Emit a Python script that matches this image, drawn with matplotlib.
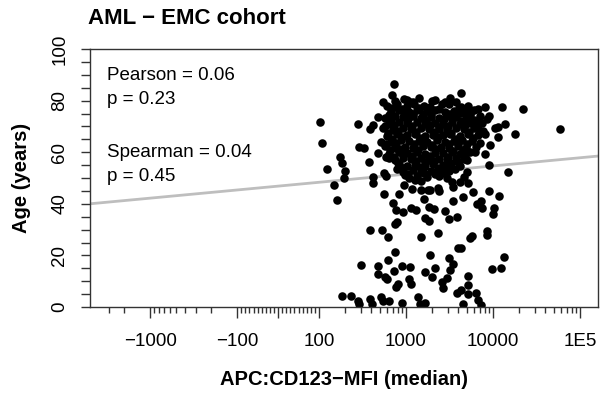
import numpy as np
import matplotlib
matplotlib.use("Agg")
import matplotlib.pyplot as plt
from matplotlib.ticker import FixedLocator, FixedFormatter, NullFormatter

plt.rcParams['font.family'] = ['Liberation Sans', 'DejaVu Sans']

title = "AML \u2212 EMC cohort"
x_label = "APC:CD123\u2212MFI (median)"
y_label = "Age (years)"
stats_lines = ["Pearson = 0.06", "p = 0.23", "Spearman = 0.04", "p = 0.45"]

# scattered samples (outside the dense core)
mfi_sparse = [103, 108, 176, 186, 124, 197, 194, 148, 163, 279,
              287, 333, 380, 422, 422, 562, 588, 566, 390, 534,
              619, 740, 614, 308, 472, 477, 577, 726, 908, 1100,
              603, 818, 775, 1082, 1132, 186, 235, 279, 287, 388,
              408, 520, 538, 641, 908, 1380, 1443, 1644, 740, 785,
              715, 760, 925, 1132, 1300, 833, 949, 1180, 1505, 1778,
              1601, 1826, 1644, 1826, 1490, 1895, 1644, 1990, 2180, 538,
              735, 687, 481, 390, 422, 520, 472, 588, 641, 785,
              974, 1280, 1470,
              4250, 8180, 12660, 22300, 58500, 18000, 13570, 11400, 10460, 11400,
              9005, 8620, 8180, 9170, 8030, 9005, 15000, 4330, 5400, 2590,
              2137, 6300, 6751, 7050, 6190, 4990, 5065, 4683, 5199, 4180,
              3370, 3510, 2330, 2371, 1895, 5925, 8950, 11600, 4480, 3450,
              7230, 6620, 7550, 10260, 9990, 2080, 2830, 3830, 3080, 2330,
              8480, 8620, 5810, 5400, 4003, 4250, 3162, 3510, 13340, 12450,
              9820, 3230, 2960, 2590, 2633, 5130, 5199, 4290, 3830, 5130,
              6410, 6751, 4480, 7370]
age_sparse = [71.6, 63.7, 58.3, 55.9, 53.5, 52.8, 49.9, 47.3, 41.6, 71.0,
              61.9, 61.7, 56.3, 50.5, 47.9, 51.8, 50.8, 43.8, 29.8, 29.7,
              27.2, 21.2, 18.2, 16.2, 15.9, 12.7, 11.7, 14.1, 15.9, 15.6,
              10.9, 8.9, 7.6, 10.9, 8.8, 4.3, 4.3, 2.4, 1.2, 3.1,
              1.2, 4.0, 2.3, 2.3, 1.4, 4.0, 1.2, 1.4, 32.2, 33.1,
              40.2, 37.6, 36.9, 38.5, 37.6, 43.7, 47.3, 45.7, 45.3, 45.3,
              41.9, 38.9, 34.4, 33.3, 27.0, 20.2, 13.4, 11.5, 15.0, 79.6,
              86.4, 82.2, 73.8, 69.0, 70.5, 64.1, 59.6, 58.3, 57.9, 53.4,
              51.2, 49.2, 48.8,
              83.1, 77.4, 77.4, 76.6, 69.0, 67.1, 70.9, 69.7, 69.3, 65.8,
              74.0, 72.8, 66.9, 62.8, 59.2, 55.0, 52.4, 77.6, 75.3, 78.7,
              80.2, 71.8, 68.9, 63.4, 60.2, 57.0, 52.4, 50.5, 47.9, 48.6,
              48.6, 46.6, 46.0, 45.0, 45.3, 44.5, 45.1, 43.0, 42.5, 41.2,
              41.2, 39.9, 38.3, 38.3, 36.0, 37.9, 37.3, 35.0, 34.0, 28.6,
              29.6, 27.9, 27.6, 26.6, 23.0, 22.8, 18.9, 16.6, 19.5, 15.0,
              14.7, 14.3, 11.4, 9.8, 7.2, 12.1, 8.5, 6.6, 5.3, 5.0,
              5.3, 2.7, 1.2, 0.8]

# dense core of the cloud
mfi_dense = [949, 1405, 3246, 1026, 1201,
             609, 790, 1026, 1233, 1601, 3080, 5199,
             675, 833, 1082, 1334, 1733, 2137, 2774, 3604, 4683, 6081,
             577, 750, 925, 1201, 1480, 1924, 2371, 3080, 3800, 4934, 7113,
             641, 833, 1026, 1334, 1644, 2137, 2633, 3420, 4217, 5478, 7496,
             548, 712, 925, 1140, 1480, 1826, 2371, 2923, 3800, 4683, 6081,
             609, 790, 1026, 1265, 1644, 2028, 2633, 3246, 4217, 5199, 6751,
             675, 877, 1082, 1405, 1733, 2251, 2774, 3604, 4444, 5771,
             577, 750, 974, 1201, 1560, 1924, 2499, 3080, 4003, 4934, 6408,
             641, 833, 1026, 1334, 1644, 2137, 2633, 3420, 4217, 5478,
             750, 925, 1140, 1480, 1826, 2371, 2923, 3800, 4683,
             833, 1026, 1265, 1644, 2028, 2633, 3246, 4217,
             925, 1201, 1480, 1924, 2499, 3080,
             1082, 1334, 1733, 2371, 2923]
age_dense = [80.5, 80.9, 80.9, 80.1, 79.5,
             78.0, 78.8, 77.9, 78.5, 78.1, 78.6, 77.8,
             75.8, 76.4, 75.6, 76.2, 75.9, 76.5, 75.7, 76.1, 75.5, 76.3,
             73.2, 74.0, 73.5, 73.9, 73.3, 73.8, 73.4, 74.1, 73.6, 73.2, 73.9,
             71.0, 71.6, 71.2, 71.7, 70.9, 71.4, 71.1, 71.6, 71.0, 71.5, 71.2,
             69.3, 68.7, 69.2, 68.8, 69.4, 68.9, 69.1, 68.6, 69.3, 68.8, 69.2,
             66.4, 67.0, 66.5, 66.9, 66.3, 66.8, 66.6, 67.1, 66.4, 66.9, 66.5,
             64.0, 64.6, 64.2, 64.5, 64.1, 64.7, 64.0, 64.4, 64.6, 64.2,
             62.3, 61.7, 62.2, 61.8, 62.4, 61.9, 62.1, 61.6, 62.3, 61.8, 62.0,
             59.4, 60.0, 59.5, 59.9, 59.3, 59.8, 59.6, 60.1, 59.4, 59.9,
             57.1, 57.7, 57.2, 57.6, 57.0, 57.5, 57.3, 57.8, 57.2,
             55.3, 54.8, 55.2, 54.7, 55.4, 54.9, 55.1, 54.6,
             52.4, 53.0, 52.5, 52.9, 52.3, 52.8,
             50.1, 50.7, 50.2, 50.6, 50.0]

# more samples filling the gaps in the core
mfi_fill = [750, 1110, 1975, 2774, 3800,
            693, 901, 1405, 1875, 2371, 4110, 6751,
            641, 949, 1201, 1560, 1924, 3162, 4217, 5478,
            675, 1054, 1688, 2703, 4329, 6081,
            577, 731, 1170, 1875, 2371, 3000, 4808, 6408,
            625, 811, 1300, 2082, 3331, 5337, 7694,
            693, 901, 1443, 2310, 3700, 5925,
            593, 770, 1233, 1560, 1975, 3162, 4003, 5065,
            658, 855, 1369, 2193, 3510, 4561,
            731, 925, 1170, 1875, 3000, 4808,
            811, 1300, 1644, 2082, 3331, 4003,
            925, 1443, 2310, 2850, 3700,
            1054, 1601, 2137, 2703]
age_fill = [79.9, 79.4, 80.0, 79.6, 79.3,
            77.3, 76.8, 77.0, 77.4, 76.9, 77.2, 76.8,
            74.6, 75.1, 74.7, 75.0, 74.5, 74.9, 75.2, 74.6,
            72.3, 72.8, 72.4, 72.7, 72.2, 72.6,
            70.0, 70.5, 70.1, 70.4, 69.9, 70.3, 70.6, 70.0,
            67.6, 68.1, 67.7, 68.0, 67.5, 67.9, 68.2,
            65.3, 65.8, 65.4, 65.7, 65.2, 65.6,
            63.0, 63.5, 63.1, 63.4, 62.9, 63.3, 63.6, 63.0,
            60.7, 61.2, 60.8, 61.1, 60.6, 61.0,
            58.3, 58.8, 58.4, 58.7, 58.2, 58.6,
            56.0, 56.5, 56.1, 56.4, 55.9, 56.3,
            53.7, 54.2, 53.8, 54.1, 53.6,
            51.4, 51.9, 51.5, 51.8]

# linear fit drawn across the plot
fit_x = [-4920, 161000]
fit_y = [40.0, 58.5]

x_major = [-1000, -100, 0, 100, 1000, 10000, 100000]
x_major_labels = ["\u22121000", "\u2212100", "", "100", "1000", "10000", "1E5"]
x_minor = ([-3000, -2000] + [-k * 100 for k in range(9, 1, -1)]
           + [-k * 10 for k in range(9, 0, -1)] + [k * 10 for k in range(1, 10)]
           + [k * 100 for k in range(2, 10)] + [k * 1000 for k in range(2, 10)]
           + [k * 10000 for k in range(2, 10)])
y_major = [0, 20, 40, 60, 80, 100]
y_minor = [v for v in range(0, 101, 5) if v % 20]

fig = plt.figure(figsize=(6, 3.96), dpi=100)
ax = fig.add_axes([90 / 600, 1 - 307 / 396, 508 / 600, 258 / 396])

ax.set_xscale('symlog', linthresh=100, linscale=0.423)
ax.set_xlim(-4920, 161000)
ax.set_ylim(0, 100)

ax.plot(fit_x, fit_y, color='#BEBEBE', lw=2.0, zorder=1)
for xs, ys in [(mfi_sparse, age_sparse), (mfi_dense, age_dense), (mfi_fill, age_fill)]:
    ax.scatter(xs, ys, s=38, c='black', linewidths=0, zorder=2)

ax.xaxis.set_major_locator(FixedLocator(x_major))
ax.xaxis.set_major_formatter(FixedFormatter(x_major_labels))
ax.xaxis.set_minor_locator(FixedLocator(x_minor))
ax.xaxis.set_minor_formatter(NullFormatter())
ax.yaxis.set_major_locator(FixedLocator(y_major))
ax.yaxis.set_minor_locator(FixedLocator(y_minor))

for s in ax.spines.values():
    s.set_color('#333333')
    s.set_linewidth(1.0)

ax.tick_params(axis='x', which='major', length=8, width=1, color='#333333',
               labelsize=13.5, pad=11)
ax.tick_params(axis='x', which='minor', length=4, width=1, color='#333333')
ax.tick_params(axis='y', which='both', length=6.5, width=1, color='#333333',
               labelsize=13.5, pad=9)
for lab in ax.get_yticklabels():
    lab.set_rotation(90)
    lab.set_va('center')

ax.set_xlabel(x_label, fontsize=14.5, fontweight='bold', labelpad=14)
ax.set_ylabel(y_label, fontsize=14.5, fontweight='bold', labelpad=15)

fig.text(88 / 600, 1 - 18 / 396, title, fontsize=16, fontweight='bold',
         ha='left', va='center')

stat_y = [0.899, 0.806, 0.597, 0.504]
for txt, yy in zip(stats_lines, stat_y):
    ax.text(0.0335, yy, txt, transform=ax.transAxes, fontsize=13.5,
            ha='left', va='center')

fig.savefig('out.png', dpi=100)
